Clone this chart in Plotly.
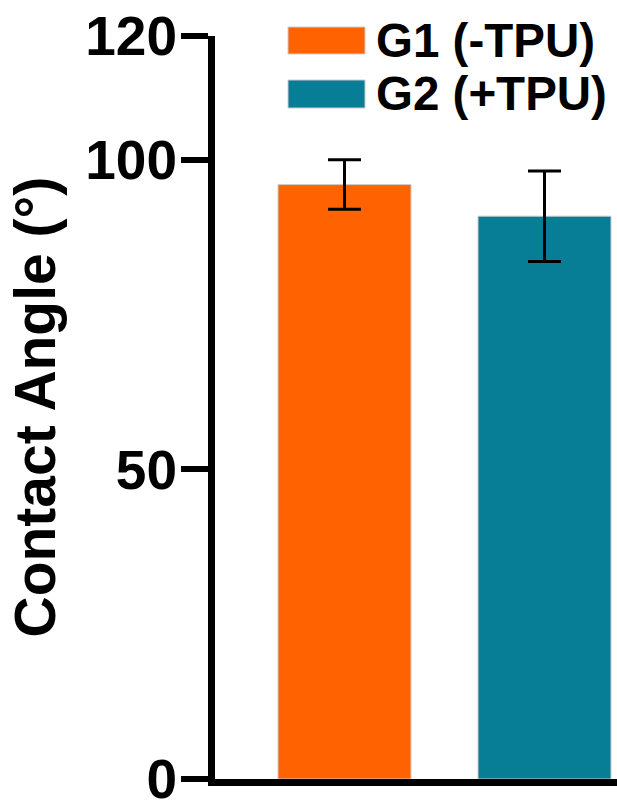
import plotly.graph_objects as go

categories = ["G1 (-TPU)", "G2 (+TPU)"]
means = [96.0, 90.9]
errors = [4.0, 7.3]
colors = ["#FF6200", "#087D96"]
tick_vals = [0, 50, 100, 120]
tick_text = ["0", "50", "100", "120"]
y_title = "Contact Angle (°)"

W, H = 617, 803
L, R, T, B = 215, 0, 36, 24
pw, ph = W - L - R, H - T - B

def px(x):
    return (x - L) / pw

def py(y):
    return (H - B - y) / ph

fig = go.Figure()
fig.add_trace(go.Bar(
    x=categories, y=means,
    marker=dict(color=colors, line=dict(color="#cccccc", width=1)),
    width=0.665,
    error_y=dict(type="data", array=errors, visible=True,
                 color="black", thickness=3, width=16.5),
    showlegend=False,
))

font_main = "Liberation Sans, Arial, sans-serif"

fig.update_layout(
    width=W, height=H,
    margin=dict(l=L, r=R, t=T, b=B, pad=0, autoexpand=False),
    plot_bgcolor="white", paper_bgcolor="white",
    xaxis=dict(type="category", range=[-0.6475, 1.3625], showticklabels=False,
               showline=True, linewidth=7, linecolor="black", ticks="",
               showgrid=False, zeroline=False, automargin=False),
    yaxis=dict(range=[0, 120], tickvals=tick_vals, ticktext=tick_text,
               showline=True, linewidth=7, linecolor="black",
               ticks="outside", ticklen=27, tickwidth=6, tickcolor="black",
               ticklabelstandoff=-7, ticklabeloverflow="allow",
               tickfont=dict(family=font_main, size=55, color="black", weight="bold"),
               showgrid=False, zeroline=False, automargin=False),
)

fig.add_annotation(text=y_title, textangle=-90, xref="paper", yref="paper",
                   x=px(34), y=0.5, xanchor="center", yanchor="middle",
                   showarrow=False,
                   font=dict(family=font_main, size=57, color="black", weight="bold"))

legend_rows = [(27, 54), (80, 108)]
for (y0, y1), name, col in zip(legend_rows, categories, colors):
    fig.add_shape(type="rect", xref="paper", yref="paper",
                  x0=px(288), x1=px(365), y0=py(y1), y1=py(y0),
                  fillcolor=col, line=dict(color="#cccccc", width=1))
    fig.add_annotation(text=name, xref="paper", yref="paper",
                       x=px(374), y=py((y0 + y1) / 2), xanchor="left", yanchor="middle",
                       showarrow=False,
                       font=dict(family=font_main, size=47.5, color="black", weight="bold"))

fig.write_html("out.html", config={"displayModeBar": False},
               post_script="document.body.style.margin='0';document.body.style.padding='0';")
